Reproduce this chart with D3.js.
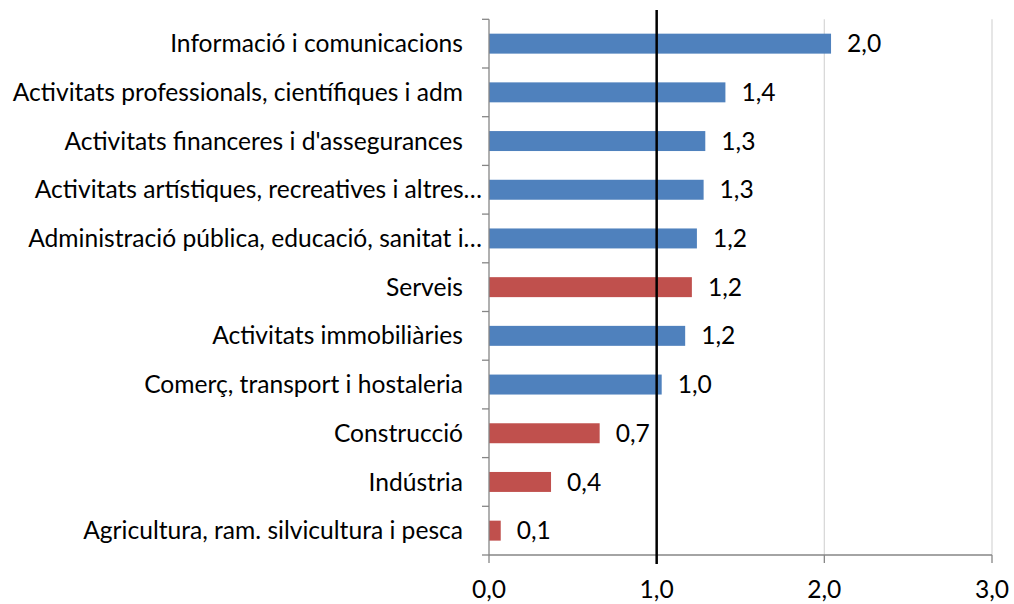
<!DOCTYPE html>
<html>
<head>
<meta charset="utf-8">
<script src="https://cdn.jsdelivr.net/npm/d3@7"></script>
<style>
  body { margin: 0; background: #fff; }
  text { font-family: "Lato", "Carlito", "Calibri", sans-serif; fill: #000; }
</style>
</head>
<body>
<div id="chart"></div>
<script>
// Dades del gràfic (de dalt a baix)
const categories = [
    "Informació i comunicacions",
    "Activitats professionals, científiques i adm",
    "Activitats financeres i d'assegurances",
    "Activitats artístiques, recreatives i altres…",
    "Administració pública, educació, sanitat i…",
    "Serveis",
    "Activitats immobiliàries",
    "Comerç, transport i hostaleria",
    "Construcció",
    "Indústria",
    "Agricultura, ram. silvicultura i pesca"
];
const values = [2.04, 1.41, 1.29, 1.28, 1.24, 1.21, 1.17, 1.03, 0.66, 0.37, 0.07];
// true = gran sector (vermell), false = branca de serveis (blau)
const isSector = [false, false, false, false, false, true, false, false, true, true, true];
const xTicks = [0, 1, 2, 3];
const referenceValue = 1;

const width = 1014;
const height = 604;
const fontSize = 24.6;

const svg = d3.select("#chart").append("svg")
    .attr("width", width)
    .attr("height", height);

const x = d3.scaleLinear().domain([0, 3]).range([489, 992]);
const y = d3.scaleBand()
    .domain(categories)
    .range([19.3, 555])
    .paddingInner(0.59)
    .paddingOuter(0.295);

const fmt = v => d3.format(".1f")(v).replace(".", ",");
const plotTop = y.range()[0];
const plotBottom = y.range()[1];

// Línies de quadrícula verticals
svg.append("g")
    .selectAll("line")
    .data(xTicks.filter(d => d > 0))
    .enter().append("line")
    .attr("x1", d => x(d)).attr("x2", d => x(d))
    .attr("y1", plotTop).attr("y2", plotBottom)
    .attr("stroke", "#d9d9d9")
    .attr("stroke-width", 1.3);

// Barres
svg.append("g")
    .selectAll("rect")
    .data(values)
    .enter().append("rect")
    .attr("x", x(0))
    .attr("y", (d, i) => y(categories[i]))
    .attr("width", d => x(d) - x(0))
    .attr("height", y.bandwidth())
    .attr("fill", (d, i) => isSector[i] ? "#C0504D" : "#4F81BD");

// Eix de categories
const axisColor = "#868686";
svg.append("line")
    .attr("x1", x(0)).attr("x2", x(0))
    .attr("y1", plotTop).attr("y2", plotBottom)
    .attr("stroke", axisColor).attr("stroke-width", 1.3);

svg.append("g")
    .selectAll("line")
    .data(d3.range(categories.length + 1))
    .enter().append("line")
    .attr("x1", x(0) - 7).attr("x2", x(0))
    .attr("y1", i => plotTop + i * y.step())
    .attr("y2", i => plotTop + i * y.step())
    .attr("stroke", axisColor).attr("stroke-width", 1.3);

svg.append("g")
    .selectAll("text")
    .data(categories)
    .enter().append("text")
    .attr("x", d => d.endsWith("…") ? x(0) - 7 : x(0) - 26)
    .attr("y", d => y(d) + y.bandwidth() / 2)
    .attr("dy", "0.35em")
    .attr("text-anchor", "end")
    .style("font-size", fontSize + "px")
    .text(d => d);

// Eix de valors
svg.append("line")
    .attr("x1", x(0)).attr("x2", x(3))
    .attr("y1", plotBottom).attr("y2", plotBottom)
    .attr("stroke", axisColor).attr("stroke-width", 1.3);

svg.append("g")
    .selectAll("line")
    .data(xTicks)
    .enter().append("line")
    .attr("x1", d => x(d)).attr("x2", d => x(d))
    .attr("y1", plotBottom).attr("y2", plotBottom + 8)
    .attr("stroke", axisColor).attr("stroke-width", 1.3);

svg.append("g")
    .selectAll("text")
    .data(xTicks)
    .enter().append("text")
    .attr("x", d => x(d))
    .attr("y", 589)
    .attr("dy", "0.35em")
    .attr("text-anchor", "middle")
    .style("font-size", fontSize + "px")
    .text(d => fmt(d));

// Etiquetes de valor
svg.append("g")
    .selectAll("text")
    .data(values)
    .enter().append("text")
    .attr("x", d => x(d) + 16)
    .attr("y", (d, i) => y(categories[i]) + y.bandwidth() / 2)
    .attr("dy", "0.35em")
    .style("font-size", fontSize + "px")
    .text(d => fmt(d));

// Línia de referència en 1,0
svg.append("line")
    .attr("x1", x(referenceValue)).attr("x2", x(referenceValue))
    .attr("y1", 10).attr("y2", 564)
    .attr("stroke", "#000")
    .attr("stroke-width", 2.5);
</script>
</body>
</html>
